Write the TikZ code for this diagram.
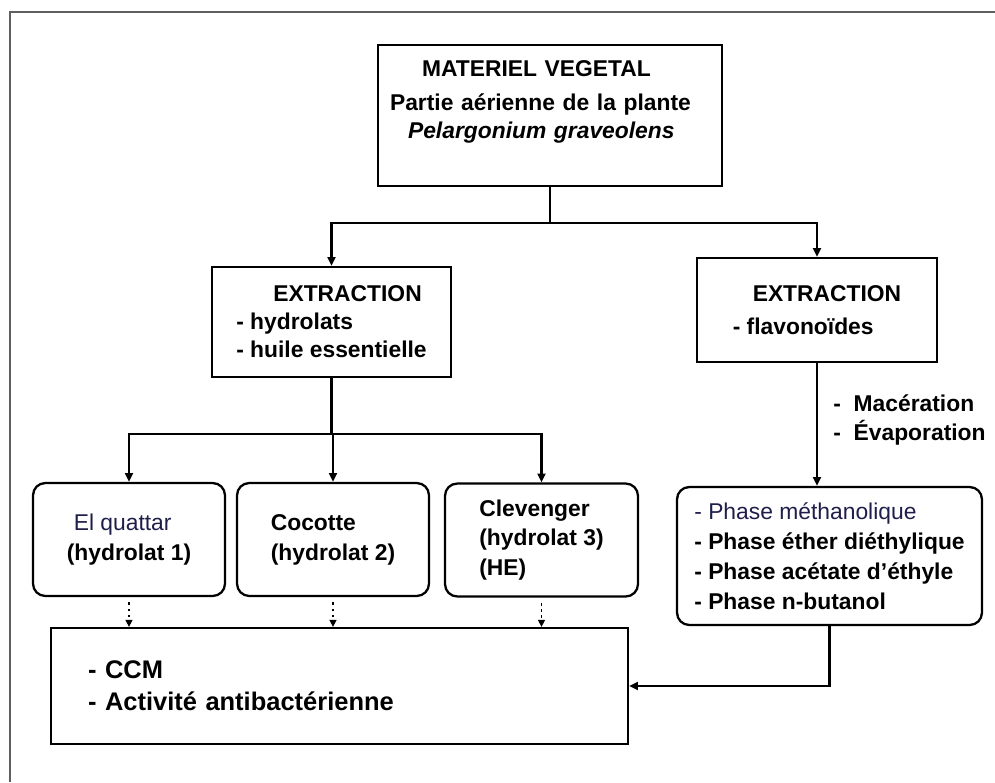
\documentclass[tikz,border=0pt]{standalone}
\usepackage{fontspec}
\setmainfont{Liberation Sans}
\usetikzlibrary{arrows.meta}
\definecolor{inkblue}{RGB}{30,30,75}
\definecolor{framegray}{RGB}{95,95,95}
\begin{document}
\begin{tikzpicture}[x=0.02cm,y=-0.02cm,
    box/.style={draw, line width=1.3pt, inner ysep=0pt, font=\fontsize{13}{16}\selectfont\bfseries, align=left},
    rbox/.style={box, rounded corners=7pt, minimum width=3.84cm, minimum height=2.26cm, font=\fontsize{13}{17}\selectfont\bfseries},
    link/.style={line width=1.2pt},
    arr/.style={line width=1.2pt, -{Triangle[length=5pt,width=4.5pt]}},
    dotarr/.style={line width=0.8pt, dash pattern=on 1.5pt off 2pt, -{Triangle[length=4pt,width=4pt]}, shorten <=3pt}]
    \useasboundingbox (0,0) rectangle (995,782);
    \draw [framegray, line width=1.6pt] (10,782)--(10,12)--(995,12);
    \node [box, minimum width=6.88cm, minimum height=2.82cm, text width=6.4cm, inner xsep=0.24cm] (vegetal) at (550,115.5)
        {\hspace*{0.64cm}MATERIEL VEGETAL\\[3pt]Partie aérienne de la plante\\\hspace*{0.36cm}\textit{Pelargonium graveolens}\\[2pt]\mbox{}};
    \node [box, minimum width=4.78cm, minimum height=2.2cm] (extA) at (331.5,322)
        {\hspace*{0.74cm}EXTRACTION\\- hydrolats\\- huile essentielle};
    \node [box, minimum width=4.8cm, minimum height=2.08cm] (extB) at (817,310)
        {\hspace*{0.4cm}EXTRACTION\\[3pt]- flavonoïdes};
    \node [rbox] (quattar) at (129,539.5)
        {\hspace*{0.14cm}{\mdseries\color{inkblue}El quattar}\\(hydrolat 1)};
    \node [rbox] (cocotte) at (333,539.5) {Cocotte\\(hydrolat 2)};
    \node [rbox, minimum width=3.86cm] (clevenger) at (541.5,540) {Clevenger\\(hydrolat 3)\\(HE)};
    \node [rbox, minimum width=6.1cm, minimum height=2.76cm] (phases) at (829.5,556)
        {{\mdseries\color{inkblue}- Phase méthanolique}\\- Phase éther diéthylique\\- Phase acétate d’éthyle\\- Phase n-butanol};
    \node [box, minimum width=11.54cm, minimum height=2.32cm, text width=10.06cm, inner xsep=0.74cm,
        font=\fontsize{14.5}{18}\selectfont\bfseries] (analyse) at (339.5,686)
        {- CCM\\- Activité antibactérienne};
    \node [anchor=west, inner sep=0pt, align=left, font=\fontsize{13}{17}\selectfont\bfseries] (traitement) at (833,420)
        {-~~Macération\\-~~Évaporation};
    \coordinate (s1) at ([yshift=-0.72cm]vegetal.south);
    \coordinate (s2) at ([yshift=-1.12cm]extA.south);
    \draw [link] (vegetal.south)--(s1);
    \draw [arr] (s1) -| (extA.north);
    \draw [arr] (s1) -| (extB.north);
    \draw [link] (extA.south)--(s2);
    \draw [arr] (s2) -| (quattar.north);
    \draw [arr] (s2) -- (s2 -| cocotte.north) -- (cocotte.north);
    \draw [arr] (s2) -| (clevenger.north);
    \draw [arr] (extB.south)--(phases.north -| extB.south);
    \draw [dotarr] (quattar.south)--(analyse.north -| quattar.south);
    \draw [dotarr] (cocotte.south)--(analyse.north -| cocotte.south);
    \draw [dotarr] (clevenger.south)--(analyse.north -| clevenger.south);
    \draw [arr] (phases.south) |- (analyse.east);
\end{tikzpicture}
\end{document}
